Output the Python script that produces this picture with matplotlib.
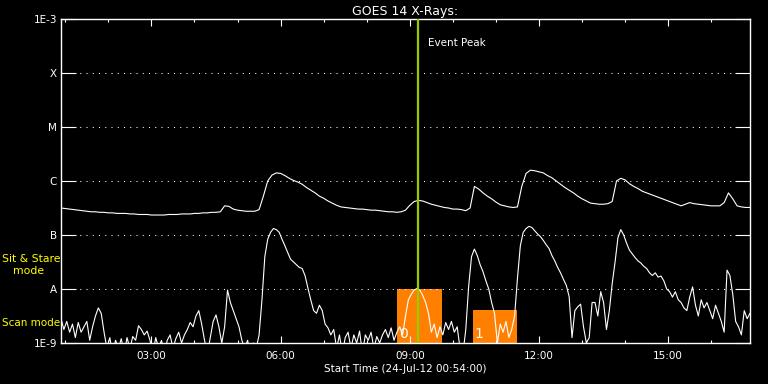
import numpy as np
import matplotlib
matplotlib.use("Agg")
import matplotlib.pyplot as plt
from matplotlib.ticker import FixedLocator

# ---- data (log10 of flux in W/m^2) ----
start_hour = 0.9          # 00:54
end_hour = 16.9           # 16:54

# long channel (1-8 A), one value every 6 minutes
long_step_min = 6
long_log = [
    -6.50, -6.51, -6.52, -6.53, -6.54, -6.55, -6.56, -6.57, -6.57, -6.58,
    -6.58, -6.59, -6.59, -6.60, -6.60, -6.60, -6.61, -6.61, -6.62, -6.62,
    -6.62, -6.63, -6.63, -6.63, -6.63, -6.62, -6.62, -6.62, -6.61, -6.61,
    -6.61, -6.60, -6.60, -6.59, -6.59, -6.58, -6.58, -6.57, -6.46, -6.47,
    -6.52, -6.54, -6.55, -6.56, -6.56, -6.56, -6.53, -6.28, -6.00, -5.89,
    -5.85, -5.86, -5.90, -5.95, -5.99, -6.02, -6.06, -6.12, -6.17, -6.22,
    -6.28, -6.32, -6.37, -6.41, -6.45, -6.48, -6.49, -6.50, -6.51, -6.52,
    -6.52, -6.53, -6.54, -6.54, -6.55, -6.56, -6.57, -6.57, -6.58, -6.57,
    -6.54, -6.45, -6.38, -6.36, -6.37, -6.40, -6.43, -6.45, -6.47, -6.49,
    -6.50, -6.52, -6.52, -6.53, -6.55, -6.50, -6.10, -6.15, -6.22, -6.28,
    -6.33, -6.39, -6.44, -6.46, -6.48, -6.49, -6.48, -6.10, -5.86, -5.80,
    -5.81, -5.83, -5.85, -5.90, -5.94, -6.00, -6.06, -6.12, -6.17, -6.22,
    -6.28, -6.33, -6.37, -6.41, -6.42, -6.43, -6.43, -6.42, -6.38, -6.00,
    -5.95, -5.98, -6.05, -6.10, -6.14, -6.19, -6.22, -6.25, -6.28, -6.31,
    -6.34, -6.37, -6.40, -6.43, -6.46, -6.43, -6.40, -6.42, -6.43, -6.44,
    -6.45, -6.46, -6.46, -6.46, -6.40, -6.22, -6.33, -6.46, -6.48, -6.49,
    -6.49,
]

# short channel (0.5-4 A), one value every 4 minutes
short_step_min = 4
short_log = [
    -8.55, -8.75, -8.60, -8.80, -8.65, -8.90, -8.62, -8.80, -8.70, -8.60,
    -8.95, -8.70, -8.50, -8.35, -8.45, -8.80, -9.10, -8.90, -9.20, -8.95,
    -9.10, -8.92, -9.20, -8.90, -9.10, -8.88, -8.95, -8.68, -8.75, -8.85,
    -8.78, -8.95, -9.20, -8.90, -9.10, -8.95, -9.20, -8.95, -8.85, -9.10,
    -8.92, -8.80, -9.00, -8.85, -8.75, -8.62, -8.70, -8.50, -8.40, -8.65,
    -8.95, -9.20, -8.90, -8.60, -8.48, -8.70, -9.00, -8.70, -8.02, -8.25,
    -8.40, -8.55, -8.70, -8.95, -9.10, -8.95, -9.20, -9.00, -9.10, -8.85,
    -8.20, -7.40, -7.08, -6.95, -6.88, -6.90, -6.95, -7.08, -7.20, -7.33,
    -7.45, -7.50, -7.55, -7.60, -7.62, -7.75, -7.98, -8.20, -8.40, -8.45,
    -8.30, -8.40, -8.65, -8.72, -8.85, -8.75, -9.10, -8.85, -9.20, -8.90,
    -8.80, -9.10, -8.85, -9.00, -8.78, -9.20, -8.85, -8.95, -8.80, -9.10,
    -8.88, -9.00, -8.85, -8.75, -8.90, -8.72, -8.95, -8.80, -8.70, -8.85,
    -8.50, -8.20, -8.10, -8.02, -7.99, -8.02, -8.12, -8.25, -8.45, -8.80,
    -8.65, -8.90, -8.70, -8.85, -8.62, -8.75, -8.60, -8.80, -8.70, -9.10,
    -9.20, -8.75, -7.95, -7.40, -7.26, -7.38, -7.55, -7.68, -7.85, -8.00,
    -8.25, -8.45, -9.00, -8.65, -8.80, -8.60, -8.90, -8.75, -8.50, -7.80,
    -7.20, -6.95, -6.88, -6.84, -6.86, -6.92, -6.98, -7.03, -7.10, -7.18,
    -7.25, -7.38, -7.48, -7.60, -7.70, -7.82, -7.93, -8.14, -8.90, -8.40,
    -8.33, -8.28, -8.70, -9.00, -8.90, -8.25, -8.25, -8.50, -8.05, -8.25,
    -8.75, -8.40, -7.90, -7.50, -7.05, -6.90, -7.00, -7.15, -7.28, -7.35,
    -7.42, -7.48, -7.52, -7.58, -7.62, -7.70, -7.75, -7.70, -7.78, -7.76,
    -7.85, -8.00, -8.05, -8.15, -8.05, -8.20, -8.25, -8.35, -8.40, -8.15,
    -7.96, -8.30, -8.50, -8.20, -8.35, -8.25, -8.40, -8.55, -8.30, -8.45,
    -8.60, -8.80, -7.65, -7.75, -8.10, -8.60, -8.70, -8.85, -8.40, -8.55,
    -8.45,
]

# flare classes on the y axis
class_levels = [1e-9, 1e-8, 1e-7, 1e-6, 1e-5, 1e-4, 1e-3]
class_labels = ["1E-9", "A", "B", "C", "M", "X", "1E-3"]

# x ticks (hours)
xtick_hours = [3, 6, 9, 12, 15]
xtick_labels = ["03:00", "06:00", "09:00", "12:00", "15:00"]

event_peak = 9.20                       # 09:12
# observation-mode boxes: (start, end, top flux, label)
mode_boxes = [
    (8.71, 9.75, 1e-8, "0"),            # sit & stare
    (10.46, 11.50, 4.1e-9, "1"),        # scan
]

# ---- plot ----
t_long = start_hour + np.arange(len(long_log)) * long_step_min / 60
t_short = start_hour + np.arange(len(short_log)) * short_step_min / 60

fig = plt.figure(figsize=(7.68, 3.84), dpi=100, facecolor="black")
ax = fig.add_axes([61 / 768, 41 / 384, 689 / 768, 324 / 384])
ax.set_facecolor("black")

ax.set_yscale("log")
ax.set_xlim(start_hour, end_hour)
ax.set_ylim(1e-9, 1e-3)

for t0, t1, top, lab in mode_boxes:
    ax.fill_between([t0, t1], 1e-9, top, color="#ff8000", lw=0, zorder=1)
    ax.text(t0 + 0.05, 10 ** -8.83, lab, color="white", fontsize=10,
            ha="left", va="center", zorder=4)

for lev in class_levels[1:-1]:
    ax.axhline(lev, color="white", lw=0.75, ls=(0, (1, 5)), zorder=2)

ax.plot(t_long, 10 ** np.array(long_log), color="white", lw=0.8, zorder=3)
ax.plot(t_short, 10 ** np.array(short_log), color="white", lw=0.8, zorder=3)

ax.axvline(event_peak, color="#99cc00", lw=1.6, zorder=5)
ax.annotate("Event Peak", xy=(event_peak, 0.927), xycoords=("data", "axes fraction"),
            xytext=(7, 0), textcoords="offset points", color="white",
            fontsize=7.5, va="center", ha="left")

for s in ax.spines.values():
    s.set_color("white")
    s.set_linewidth(1)

ax.yaxis.set_major_locator(FixedLocator(class_levels))
ax.set_yticklabels(class_labels)
ax.yaxis.set_minor_locator(FixedLocator([]))
ax.tick_params(axis="y", which="major", direction="in", length=10.5, width=0.8,
               color="white", labelcolor="white", labelsize=7.5, pad=3,
               left=True, right=True)

ax.set_xticks(xtick_hours)
ax.set_xticklabels(xtick_labels)
ax.xaxis.set_minor_locator(FixedLocator(np.arange(1, 17)))
ax.tick_params(axis="x", which="major", direction="in", length=5, width=0.8,
               color="white", labelcolor="white", labelsize=7.5, pad=6,
               top=True, bottom=True)
ax.tick_params(axis="x", which="minor", direction="in", length=2.5, width=0.8,
               color="white", top=True, bottom=True)

ax.set_title("GOES 14 X-Rays:", color="white", fontsize=9, pad=3)
ax.set_xlabel("Start Time (24-Jul-12 00:54:00)", color="white", fontsize=7.5,
              labelpad=2)

fig.text(2 / 768, 1 - 259 / 384, "Sit & Stare", color="#ffff00", fontsize=7.8,
         ha="left", va="center")
fig.text(13 / 768, 1 - 271 / 384, "mode", color="#ffff00", fontsize=7.8,
         ha="left", va="center")
fig.text(2 / 768, 1 - 323 / 384, "Scan mode", color="#ffff00", fontsize=7.5,
         ha="left", va="center")

fig.savefig("out.png", dpi=100, facecolor="black")
